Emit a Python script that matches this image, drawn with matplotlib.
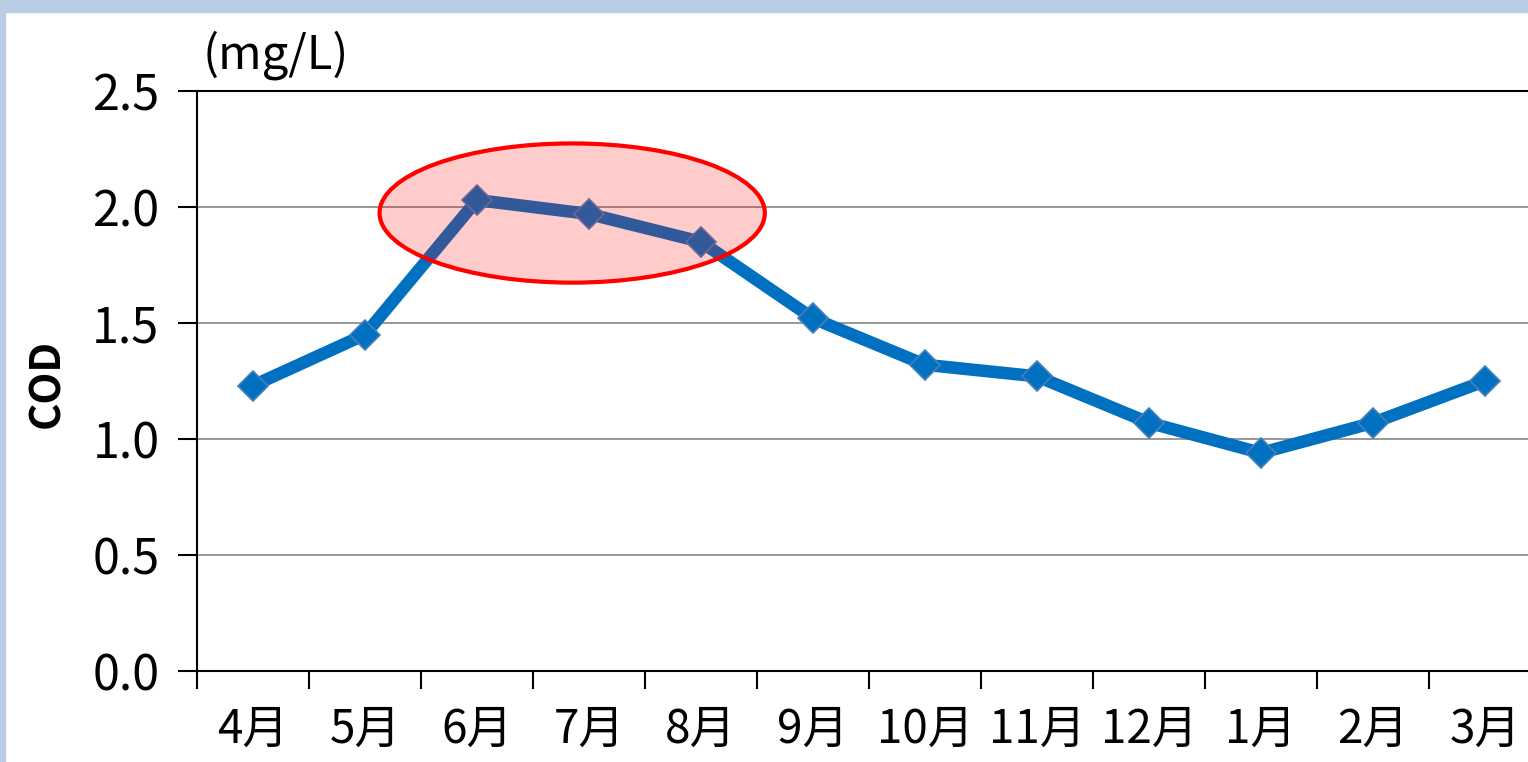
import matplotlib
matplotlib.use("Agg")
import matplotlib.pyplot as plt
from matplotlib.patches import Ellipse, Rectangle

plt.rcParams['font.family'] = ['Noto Sans CJK JP', 'DejaVu Sans']

months = ['4月', '5月', '6月', '7月', '8月', '9月', '10月', '11月', '12月', '1月', '2月', '3月']
cod = [1.23, 1.45, 2.03, 1.97, 1.85, 1.52, 1.32, 1.27, 1.07, 0.94, 1.07, 1.25]
yticks = [0.0, 0.5, 1.0, 1.5, 2.0, 2.5]

W, H = 1528, 762
fig = plt.figure(figsize=(W / 100, H / 100), dpi=100)
fig.patch.set_facecolor('white')

# light blue frame on top and left
fig.patches.append(Rectangle((0, 1 - 12 / H), 1, 12 / H, transform=fig.transFigure,
                             color='#B9CDE5', zorder=0))
fig.patches.append(Rectangle((0, 0), 5 / W, 1, transform=fig.transFigure,
                             color='#B9CDE5', zorder=0))

ax = fig.add_axes([197 / W, (H - 671) / H, (1541 - 197) / W, (671 - 91) / H])
x = list(range(len(months)))

ax.plot(x, cod, color='#0070C0', lw=9, marker='D', markersize=15,
        markerfacecolor='#0070C0', markeredgecolor='#4A7EBB', markeredgewidth=1.2,
        zorder=3, clip_on=False)

# highlight ellipse on the early summer peak
ax.add_patch(Ellipse((2.85, 1.974), 3.44, 0.60, facecolor=(1, 0, 0, 0.2),
                     edgecolor='#FF0000', lw=3, zorder=4))

ax.set_xlim(-0.5, len(months) - 0.5)
ax.set_ylim(0, 2.5)
ax.set_yticks(yticks)
ax.set_yticklabels([f'{v:.1f}' for v in yticks])
ax.set_xticks(x)
ax.set_xticklabels(months)
ax.set_xticks([i - 0.5 for i in range(len(months) + 1)], minor=True)

ax.tick_params(axis='x', which='major', length=0, pad=25, labelsize=33)
ax.tick_params(axis='x', which='minor', length=13, width=1.5, direction='out')
ax.tick_params(axis='y', length=14, width=1.5, pad=13, labelsize=35)

ax.grid(axis='y', color='#868686', lw=1.2)
ax.set_axisbelow(True)
for s in ['left', 'bottom', 'top']:
    ax.spines[s].set_linewidth(1.5)
    ax.spines[s].set_color('black')
ax.spines['right'].set_visible(False)

fig.text(47 / W, 1 - 383 / H, 'COD', fontsize=30, fontweight='bold',
         rotation=90, ha='center', va='center')
fig.text(203 / W, 1 - 55 / H, '(mg/L)', fontsize=34, va='center', ha='left')

fig.savefig('out.png', dpi=100)
